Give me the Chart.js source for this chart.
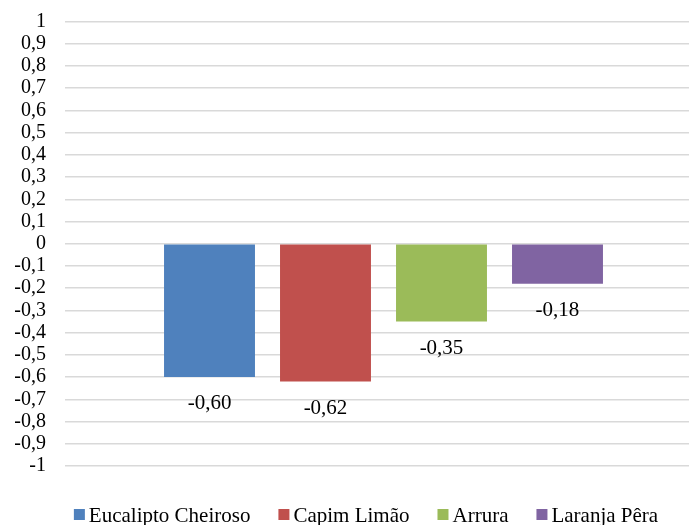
<!DOCTYPE html>
<html>
<head>
<meta charset="utf-8">
<style>
  html, body { margin: 0; padding: 0; background: #fff; overflow: hidden; }
  #wrap { width: 689px; height: 525px; overflow: hidden; }
  canvas { display: block; }
</style>
<script src="https://cdn.jsdelivr.net/npm/chart.js@4/dist/chart.umd.min.js"></script>
</head>
<body>
<div id="wrap"><canvas id="c" width="702" height="525"></canvas></div>
<script>
// Single category, one dataset per plant
const categories = [''];
const seriesNames = ['Eucalipto Cheiroso', 'Capim Limão', 'Arrura', 'Laranja Pêra'];
const seriesValues = [-0.60, -0.62, -0.35, -0.18];
const seriesColors = ['#4F81BD', '#C0504D', '#9BBB59', '#8064A2'];

// Y axis ticks, bottom to top
const tickValues = [-1, -0.9, -0.8, -0.7, -0.6, -0.5, -0.4, -0.3, -0.2, -0.1, 0,
                    0.1, 0.2, 0.3, 0.4, 0.5, 0.6, 0.7, 0.8, 0.9, 1];
const tickLabels = ['-1', '-0,9', '-0,8', '-0,7', '-0,6', '-0,5', '-0,4', '-0,3', '-0,2', '-0,1', '0',
                    '0,1', '0,2', '0,3', '0,4', '0,5', '0,6', '0,7', '0,8', '0,9', '1'];

const FONT = '"Liberation Serif", "Times New Roman", serif';

const fmtValue = v => v.toFixed(2).replace('.', ',');

// Value text under the end of each bar
const valueLabels = {
  id: 'valueLabels',
  afterDatasetsDraw(chart) {
    const ctx = chart.ctx;
    ctx.save();
    ctx.font = '21px ' + FONT;
    ctx.fillStyle = '#000';
    ctx.textAlign = 'center';
    ctx.textBaseline = 'alphabetic';
    chart.data.datasets.forEach((ds, i) => {
      chart.getDatasetMeta(i).data.forEach((bar, j) => {
        ctx.fillText(fmtValue(ds.data[j]), bar.x, bar.y + 32);
      });
    });
    ctx.restore();
  }
};

// Compact legend row at the bottom
const bottomLegend = {
  id: 'bottomLegend',
  afterDraw(chart) {
    const ctx = chart.ctx;
    ctx.save();
    ctx.font = '21px ' + FONT;
    ctx.textBaseline = 'alphabetic';
    ctx.textAlign = 'left';
    const box = 11, gapText = 4, gapItem = 28;
    const items = chart.data.datasets.map(ds => ({
      text: ds.label, color: ds.backgroundColor, w: ctx.measureText(ds.label).width
    }));
    const total = items.reduce((s, it) => s + box + gapText + it.w, 0) + gapItem * (items.length - 1);
    let x = 366 - total / 2;
    const boxTop = 509, baseline = 522;
    items.forEach(it => {
      ctx.fillStyle = it.color;
      ctx.fillRect(x, boxTop, box, box);
      ctx.fillStyle = '#000';
      ctx.fillText(it.text, x + box + gapText, baseline);
      x += box + gapText + it.w + gapItem;
    });
    ctx.restore();
  }
};

new Chart(document.getElementById('c'), {
  type: 'bar',
  data: {
    labels: categories,
    datasets: seriesNames.map((name, i) => ({
      label: name,
      data: [seriesValues[i]],
      backgroundColor: seriesColors[i],
      borderWidth: 0,
      categoryPercentage: 0.7284,
      barPercentage: 0.784
    }))
  },
  options: {
    responsive: false,
    animation: false,
    devicePixelRatio: 1,
    layout: { padding: { top: 21.5, bottom: 59, left: 0, right: 0 } },
    plugins: {
      legend: { display: false },
      tooltip: { enabled: false }
    },
    scales: {
      x: { display: false },
      y: {
        min: -1,
        max: 1,
        afterBuildTicks(scale) {
          scale.ticks = tickValues.map(v => ({ value: v }));
        },
        afterFit(scale) {
          scale.width = 65;
          scale.paddingTop = 0;
          scale.paddingBottom = 0;
        },
        border: { display: false },
        grid: { color: '#d9d9d9', lineWidth: 1.6, drawTicks: false },
        ticks: {
          autoSkip: false,
          padding: 19,
          color: '#000',
          font: { family: FONT, size: 20 },
          callback: (v, idx) => tickLabels[idx]
        }
      }
    }
  },
  plugins: [valueLabels, bottomLegend]
});
</script>
</body>
</html>
